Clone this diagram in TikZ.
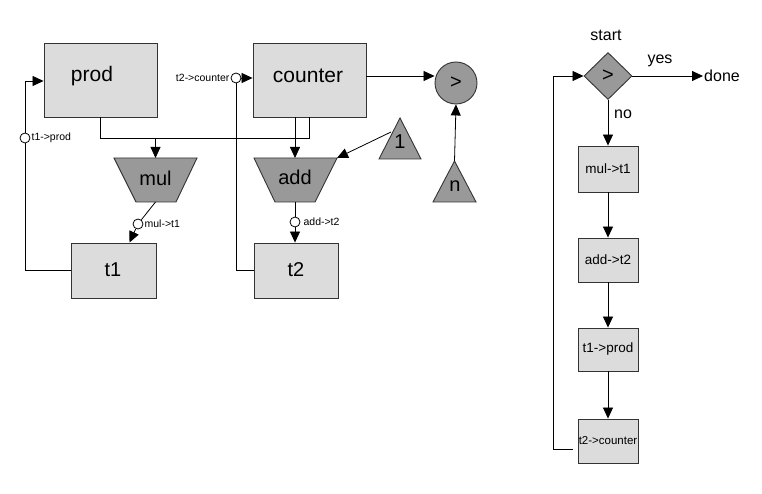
\documentclass[tikz,border=0pt]{standalone}
\usepackage{fontspec}
\setmainfont{Liberation Sans}
\usetikzlibrary{arrows.meta,shapes.geometric}
\definecolor{lightfill}{HTML}{DCDCDC}
\definecolor{darkfill}{HTML}{999999}
\definecolor{edgecol}{HTML}{333333}
\tikzset{
  reg/.style={draw=edgecol, fill=lightfill, line width=0.9pt, inner sep=0pt},
  opshape/.style={draw=edgecol, fill=darkfill, line width=0.9pt},
  conn/.style={draw=black, line width=0.8pt, -{Triangle[length=11pt,width=10pt]}},
  plain/.style={draw=black, line width=0.8pt},
  ctrl/.style={circle, draw=black, fill=white, line width=0.8pt, minimum size=10pt, inner sep=0pt},
  smalllab/.style={font=\fontsize{10.5}{12}\selectfont, inner sep=1pt},
  biglab/.style={font=\fontsize{21}{24}\selectfont},
  oplab/.style={font=\fontsize{20}{22}\selectfont},
  steplab/.style={font=\fontsize{13.5}{15}\selectfont},
  flowlab/.style={font=\fontsize{16}{18}\selectfont},
}
\begin{document}
\begin{tikzpicture}[x=1pt,y=-1pt]
\useasboundingbox (0,0) rectangle (762,494);

% registers
\node[reg, minimum width=113pt, minimum height=74pt] (prod) at (100.5,80) {};
\node[biglab] at (92,76) {prod};
\node[reg, minimum width=113pt, minimum height=74pt] (counter) at (309.5,80) {};
\node[biglab] at (308,76) {counter};
\node[reg, minimum width=85pt, minimum height=55pt] (t1) at (113.5,270.5) {};
\node[oplab] at (113,270) {t1};
\node[reg, minimum width=84pt, minimum height=55pt] (t2) at (296,270.5) {};
\node[oplab] at (296,270) {t2};

% operators (trapezia)
\coordinate (mulTL) at (114,158); \coordinate (mulTR) at (197,158);
\coordinate (mulBL) at (136,202); \coordinate (mulBR) at (176,202);
\path[opshape] (mulTL) -- (mulTR) -- (mulBR) -- (mulBL) -- cycle;
\node[oplab] (mul) at (155.5,178) {mul};
\coordinate (mulT) at (155.5,158); \coordinate (mulB) at (155.5,202);

\coordinate (addTL) at (254,158); \coordinate (addTR) at (337,158);
\coordinate (addBL) at (275,202); \coordinate (addBR) at (315,202);
\path[opshape] (addTL) -- (addTR) -- (addBR) -- (addBL) -- cycle;
\node[oplab] (add) at (295,177) {add};
\coordinate (addT) at (295,158); \coordinate (addB) at (295,202);

% constants (triangles)
\coordinate (oneA) at (400,118);
\path[opshape] (oneA) -- (421,159) -- (379,159) -- cycle;
\node[oplab] (one) at (400,142) {1};
\coordinate (oneL) at (391,132);

\coordinate (nA) at (454.5,161);
\path[opshape] (nA) -- (476,202) -- (433,202) -- cycle;
\node[oplab] (n) at (455,186) {n};

% comparator
\node[circle, opshape, minimum size=42pt, inner sep=0pt, oplab] (gt) at (456,83) {>};

% datapath connections
\draw[plain] (prod.south) -- ++(0,21) coordinate (j1) -- (j1 -| counter.south) coordinate (j2) -- (counter.south);
\draw[conn] (j1 -| mulT) -- (mulT);
\draw[conn] ([xshift=-14.5pt]counter.south) -- (addT);
\draw[conn] (oneL) -- (addTR);
\draw[conn] (counter.east |- 0,76) -- (gt.west |- 0,76);
\draw[conn] (nA) -- (gt.south);

% mul -> t1
\node[ctrl] (cm) at (138,224) {};
\node[smalllab, anchor=west] at (cm.east) {mul->t1};
\draw[plain] (mulB) -- (cm);
\draw[conn] (cm) -- (129.5,242.5);

% add -> t2
\node[ctrl] (ca) at (295,222) {};
\node[smalllab, anchor=west] at ([xshift=2pt]ca.east) {add->t2};
\draw[plain] (addB) -- (ca);
\draw[conn] (ca) -- (t2.north -| ca);

% t1 -> prod
\node[ctrl] (cp) at (25,138) {};
\node[smalllab, anchor=west] at (cp.east) {t1->prod};
\draw[plain] (t1.west) -- (t1.west -| cp) -- (cp);
\draw[conn] (cp) -- (25,81) -- (prod.west |- 0,81);

% t2 -> counter
\node[ctrl] (cc) at (236,78) {};
\node[smalllab, anchor=east] at (cc.west) {t2->counter};
\draw[plain] (t2.west) -- (t2.west -| cc) -- (cc);
\draw[conn] (cc) -- (counter.west |- cc);

% control flowchart
\node[diamond, opshape, minimum width=48pt, minimum height=47pt, aspect=1, inner sep=0pt, oplab] (dec) at (608,76) {>};
\node[flowlab] (start) at (606,35) {start};
\node[flowlab, anchor=west, inner sep=1pt] (done) at (703,76) {done};
\draw[conn] (dec.east) -- (done.west);
\node[flowlab] at (660,61) {yes};

\node[reg, minimum width=60pt, minimum height=46pt, steplab] (s1) at (608,169) {mul->t1};
\node[reg, minimum width=60pt, minimum height=44pt, steplab] (s2) at (608,260) {add->t2};
\node[reg, minimum width=60pt, minimum height=43pt, steplab] (s3) at (608,349.5) {t1->prod};
\node[reg, minimum width=60pt, minimum height=44pt, font=\fontsize{11.5}{13}\selectfont] (s4) at (608,441) {t2->counter};

\draw[conn] (dec.south) -- (s1.north);
\node[flowlab] at (623,114) {no};
\draw[conn] (s1.south) -- (s2.north);
\draw[conn] (s2.south) -- (s3.north);
\draw[conn] (s3.south) -- (s4.north);
\draw[conn] ([xshift=-5pt]s4.west |- 0,449) -- (553,449) -- (553,76) -- (dec.west);
\end{tikzpicture}
\end{document}
